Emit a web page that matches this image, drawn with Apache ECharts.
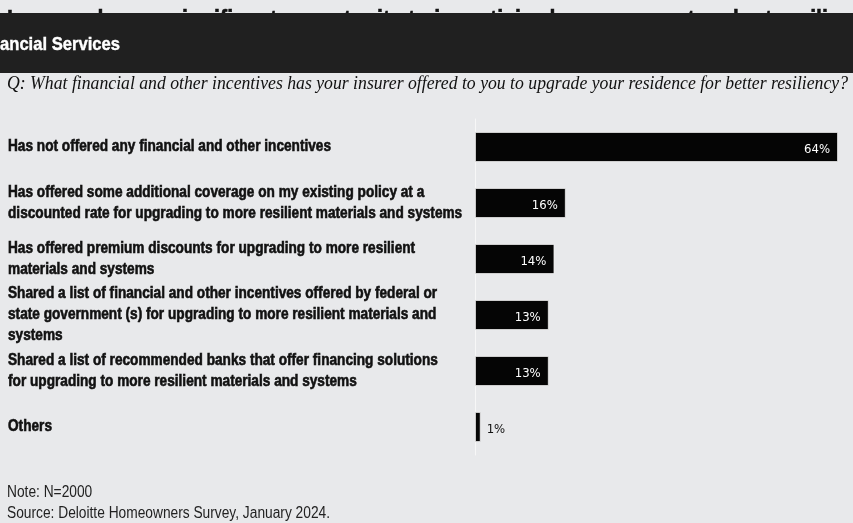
<!DOCTYPE html>
<html>
<head>
<meta charset="utf-8">
<script src="https://cdn.jsdelivr.net/npm/echarts@6/dist/echarts.min.js"></script>
<style>
html,body{margin:0;padding:0;background:#e8e9eb;}
#chart{width:853px;height:523px;}
</style>
</head>
<body>
<div id="chart"></div>
<script>
const categories = [
  "Has not offered any financial and other incentives",
  "Has offered some additional coverage on my existing policy at a\ndiscounted rate for upgrading to more resilient materials and systems",
  "Has offered premium discounts for upgrading to more resilient\nmaterials and systems",
  "Shared a list of financial and other incentives offered by federal or\nstate government (s) for upgrading to more resilient materials and\nsystems",
  "Shared a list of recommended banks that offer financing solutions\nfor upgrading to more resilient materials and systems",
  "Others"
];
const values = [64, 16, 14, 13, 13, 1];
const titleText = "Insurers have a significant opportunity to incentivize homeowners to adopt resiliency measures";
const sectionText = "ancial Services";
const questionText = "Q: What financial and other incentives has your insurer offered to you to upgrade your residence for better resiliency?";
const noteText = "Note: N=2000";
const sourceText = "Source: Deloitte Homeowners Survey, January 2024.";

const sans = '"Liberation Sans", Arial, sans-serif';
const serif = '"Liberation Serif", "DejaVu Serif", serif';
const labelFont = '"DejaVu Sans Condensed", "DejaVu Sans", sans-serif';

const mctx = document.createElement('canvas').getContext('2d');
function widthOf(text, font) {
  mctx.font = font;
  return Math.max.apply(null, text.split('\n').map(t => mctx.measureText(t).width));
}
function fitScale(text, font, target) { return target / widthOf(text, font); }

const titleFont = 'bold 26px ' + sans;
const sectionFont = 'bold 19px ' + sans;
const questionFont = 'italic 18px ' + serif;
const catFont = 'bold 16px ' + sans;
const footFont = '16px ' + sans;

const titleScale = fitScale("Insurers have a significant opportunity to incentivize homeowners to adopt resilien", titleFont, 846);
const sectionScale = fitScale(sectionText, sectionFont, 120);
const questionScale = fitScale(questionText, questionFont, 841);
const catScale = fitScale(categories[0], catFont, 323);
const footScale = fitScale(sourceText, footFont, 323);

const chart = echarts.init(document.getElementById('chart'), null, {renderer: 'canvas'});
const staticGraphics = [
  {type: 'text', x: 7, y: 8, scaleX: titleScale, z: 1, style: {text: titleText, fill: '#111', font: titleFont, verticalAlign: 'top', stroke: '#111', lineWidth: 0.6}},
  {type: 'rect', x: 0, y: 13, z: 5, shape: {width: 853, height: 60}, style: {fill: '#202020'}},
  {type: 'text', x: 0, y: 45, scaleX: sectionScale, z: 6, style: {text: sectionText, fill: '#ffffff', font: sectionFont, verticalAlign: 'middle', stroke: '#ffffff', lineWidth: 0.4}},
  {type: 'text', x: 7, y: 84, scaleX: questionScale, z: 6, style: {text: questionText, fill: '#111', font: questionFont, verticalAlign: 'middle'}},
  {type: 'text', x: 7, y: 493, scaleX: footScale, z: 6, style: {text: noteText, fill: '#222', font: footFont, verticalAlign: 'middle'}},
  {type: 'text', x: 7, y: 514, scaleX: footScale, z: 6, style: {text: sourceText, fill: '#222', font: footFont, verticalAlign: 'middle'}}
];

const xMax = 66;
chart.setOption({
  backgroundColor: '#e8e9eb',
  animation: false,
  graphic: staticGraphics,
  grid: {left: 475, top: 119, width: 363 * xMax / 64, height: 336, containLabel: false},
  xAxis: {type: 'value', min: 0, max: xMax, show: false},
  yAxis: {
    type: 'category', data: categories, inverse: true,
    axisTick: {show: false},
    axisLine: {show: true, lineStyle: {color: '#f7f7f7', width: 1}},
    axisLabel: {show: false}
  },
  series: [{
    type: 'bar',
    data: values.map((v) => ({
      value: v,
      label: v < 5 ? {position: 'right', distance: 6, color: '#111'} : {position: 'insideRight', distance: 8, color: '#ffffff'}
    })),
    barWidth: 30,
    itemStyle: {color: '#050505', borderColor: '#f2f2f2', borderWidth: 0.8},
    label: {show: true, formatter: '{c}%', fontSize: 13, fontFamily: labelFont, offset: [0, 3]}
  }]
});

// category labels placed at the category axis positions
const catGraphics = categories.map((c, i) => {
  const y = chart.convertToPixel({yAxisIndex: 0}, i);
  return {type: 'text', x: 8, y: y, scaleX: catScale, z: 6,
    style: {text: c, fill: '#111', font: catFont, lineHeight: 21, verticalAlign: 'middle', stroke: '#111', lineWidth: 0.6}};
});
chart.setOption({graphic: staticGraphics.concat(catGraphics)});
</script>
</body>
</html>
